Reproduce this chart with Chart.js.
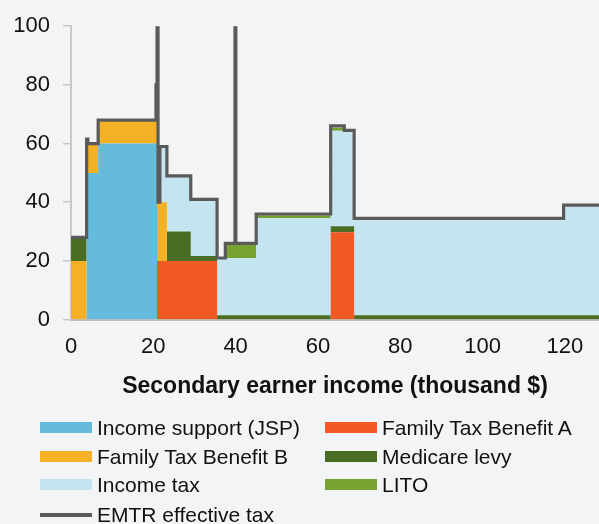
<!DOCTYPE html>
<html>
<head>
<meta charset="utf-8">
<script src="https://cdn.jsdelivr.net/npm/chart.js@4/dist/chart.umd.min.js"></script>
<style>
  html, body { margin: 0; padding: 0; background: #F3F4F6; }
  #wrap { position: relative; width: 599px; height: 524px; overflow: hidden; background: #F3F4F6; }
  #c { position: absolute; left: 0; top: 0; }
  #legend { position: absolute; left: 0; top: 0; width: 599px; height: 524px; pointer-events: none;
            font-family: "Liberation Sans", Arial, sans-serif; font-size: 21px; color: #111; }
  .item { position: absolute; white-space: nowrap; line-height: 24px; height: 24px; }
  .sw { position: absolute; top: 6px; width: 52px; height: 11px; }
  .sw.line { top: 10px; height: 4px; }
  .lab { position: absolute; left: 57px; top: 0; }
</style>
</head>
<body>
<div id="wrap">
  <canvas id="c" width="599" height="524"></canvas>
  <div id="legend"></div>
</div>
<script>
// ---- data (secondary earner income in thousand $, rates in %) ----
const breakpoints = [0, 3.8, 6.6, 20.9, 23.3, 29.1, 35.5, 37.5, 45.0, 63.1, 66.4, 68.8, 119.7, 128.3];
const incomeSupportJSP = [0, 50, 60, 0, 0, 0, 0, 0, 0, 0, 0, 0, 0, 0];
const familyTaxBenefitA = [0, 0, 0, 20, 20, 20, 0, 0, 0, 29.8, 29.8, 0, 0, 0];
const familyTaxBenefitB = [20, 10, 8, 20, 0, 0, 0, 0, 0, 0, 0, 0, 0, 0];
const medicareLevy = [8, 0, 0, 0, 10, 1.7, 1.5, 1.5, 1.5, 2.0, 2.0, 1.5, 1.5, 1.5];
const incomeTax = [0, 0, 0, 19, 19, 19.3, 19.3, 19.5, 33.1, 32.6, 32.2, 32.4, 37.0, 37.0];
const lito = [0, 0, 0, 0, 0, 0, 0, 4.6, 1.0, 1.0, 0, 0, 0, 0];

const emtrIncome = [0, 3.8, 4.1, 6.6, 20.65, 20.9, 21.15, 21.6, 23.3, 29.1, 35.5, 37.5, 39.85, 40.05, 45.0, 63.1, 66.4, 68.8, 119.7, 128.3];
const emtrValues = [28, 61.5, 60, 68, 80, 100, 40, 59, 49, 41, 21, 26, 100, 26, 36, 66, 64.5, 34.5, 39, 39];

const xTickValues = [0, 20, 40, 60, 80, 100, 120];
const yTickValues = [0, 20, 40, 60, 80, 100];

const seriesNames = ["Income support (JSP)", "Family Tax Benefit A", "Family Tax Benefit B", "Medicare levy", "Income tax", "LITO", "EMTR effective tax"];
const seriesColors = ["#64BBDB", "#F15A25", "#F5B125", "#4A6D24", "#C4E4EF", "#78A22F", "#5A5A5A"];

// ---- build ----
const seriesValues = [incomeSupportJSP, familyTaxBenefitA, familyTaxBenefitB, medicareLevy, incomeTax, lito];
const areaSets = seriesValues.map((vals, i) => ({
  label: seriesNames[i],
  data: breakpoints.map((x, j) => ({ x: x, y: vals[j] })),
  backgroundColor: seriesColors[i],
  borderColor: seriesColors[i],
  borderWidth: 0,
  pointRadius: 0,
  stepped: 'before',
  fill: i === 0 ? 'origin' : '-1',
  stack: 'areas',
  order: 2
}));
const emtrSet = {
  label: seriesNames[6],
  data: emtrIncome.map((x, j) => ({ x: x, y: emtrValues[j] })),
  borderColor: seriesColors[6],
  backgroundColor: seriesColors[6],
  borderWidth: 3.2,
  pointRadius: 0,
  stepped: 'before',
  fill: false,
  stack: 'emtr',
  order: 1
};

const FONT = "'Liberation Sans', Arial, sans-serif";
new Chart(document.getElementById('c'), {
  type: 'line',
  data: { datasets: [...areaSets, emtrSet] },
  options: {
    responsive: false,
    animation: false,
    events: [],
    layout: { padding: { top: 25, right: 0, bottom: 125.8, left: 0 } },
    plugins: { legend: { display: false }, tooltip: { enabled: false } },
    scales: {
      x: {
        type: 'linear',
        min: 0,
        max: 128.3,
        afterBuildTicks: (axis) => { axis.ticks = xTickValues.map(v => ({ value: v })); },
        ticks: { autoSkip: false, maxRotation: 0, color: '#111', font: { family: FONT, size: 22, lineHeight: 1.2 }, padding: 14.6 },
        grid: { display: false, drawTicks: false },
        border: { display: true, color: '#BFBFBF', width: 2 },
        title: { display: true, text: 'Secondary earner income (thousand $)', color: '#111',
                 font: { family: FONT, size: 23, weight: 'bold', lineHeight: 1.0 }, padding: { top: 0, bottom: 0 } }
      },
      y: {
        stacked: true,
        min: 0,
        max: 100,
        afterBuildTicks: (axis) => { axis.ticks = yTickValues.map(v => ({ value: v })); },
        afterFit: (axis) => { axis.width = 71; },
        ticks: { color: '#111', font: { family: FONT, size: 22 }, padding: 13 },
        grid: { drawOnChartArea: false, drawTicks: true, tickLength: 8, color: '#C8C8C8', lineWidth: 1.5 },
        border: { display: true, color: '#C8C8C8', width: 2 }
      }
    }
  }
});

// ---- legend (HTML, from the series names and colours) ----
const legendEl = document.getElementById('legend');
const legendLayout = [[0, 40, 416], [1, 325, 416], [2, 40, 445], [3, 325, 445], [4, 40, 473], [5, 325, 473], [6, 40, 503]];
legendLayout.forEach(([i, left, top]) => {
  const d = document.createElement('div');
  d.className = 'item';
  d.style.left = left + 'px';
  d.style.top = top + 'px';
  const sw = document.createElement('div');
  sw.className = 'sw' + (i === 6 ? ' line' : '');
  sw.style.background = seriesColors[i];
  const lab = document.createElement('span');
  lab.className = 'lab';
  lab.textContent = seriesNames[i];
  d.appendChild(sw); d.appendChild(lab);
  legendEl.appendChild(d);
});
</script>
</body>
</html>
